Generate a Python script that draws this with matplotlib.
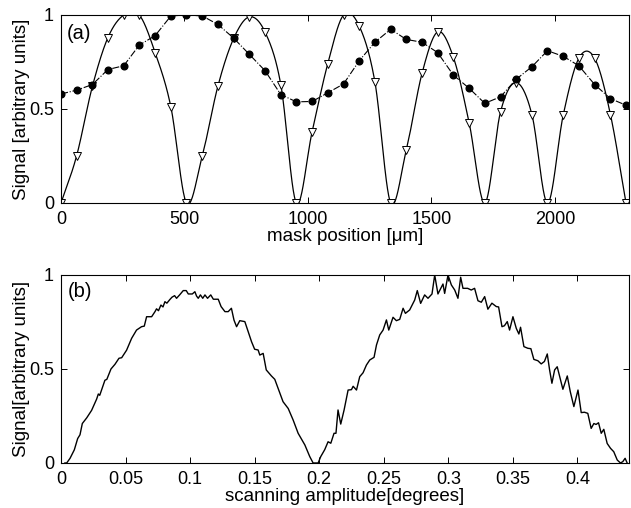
import matplotlib.pyplot as plt
import numpy as np

plt.rcParams['font.family'] = ['Liberation Sans', 'DejaVu Sans']
plt.rcParams['font.size'] = 13

# (a) mask position scan
mask_pos = [0, 63, 127, 190, 254, 317, 381, 445, 508, 572, 635, 699, 763, 826,
            890, 953, 1017, 1080, 1144, 1208, 1271, 1335, 1398, 1462, 1525, 1589,
            1653, 1716, 1780, 1843, 1907, 1970, 2034, 2097, 2161, 2225, 2288]
sig_tri = [0.0, 0.25, 0.62, 0.88, 1.0, 1.0, 0.80, 0.51, 0.0, 0.25, 0.62, 0.875,
           0.99, 0.91, 0.63, 0.0, 0.38, 0.74, 1.0, 0.94, 0.645, 0.0, 0.28, 0.69,
           0.91, 0.775, 0.425, 0.0, 0.486, 0.64, 0.47, 0.0, 0.47, 0.77, 0.77,
           0.47, 0.0]
sig_dot = [0.58, 0.60, 0.63, 0.71, 0.73, 0.84, 0.89, 0.995, 1.0, 0.995, 0.95,
           0.877, 0.79, 0.704, 0.577, 0.538, 0.54, 0.586, 0.633, 0.757, 0.855,
           0.924, 0.87, 0.855, 0.80, 0.68, 0.61, 0.53, 0.565, 0.658, 0.725, 0.81,
           0.78, 0.73, 0.63, 0.555, 0.52]

# (b) scanning amplitude
amp = [0.003, 0.0044, 0.007, 0.0103, 0.0129, 0.0147, 0.0165, 0.0199, 0.0237,
       0.0276, 0.0289, 0.0300, 0.034, 0.0355, 0.0387, 0.0418, 0.0449, 0.047,
       0.0508, 0.0547, 0.0585, 0.0624, 0.0645, 0.0663, 0.0702, 0.0728, 0.074,
       0.0755, 0.0774, 0.079, 0.0805, 0.082, 0.0844, 0.086, 0.088, 0.0895,
       0.092, 0.0947, 0.097, 0.0986, 0.1017, 0.1037, 0.105, 0.1063, 0.108,
       0.1098, 0.1115, 0.1135, 0.116, 0.118, 0.1218, 0.124, 0.127, 0.1295,
       0.132, 0.134, 0.136, 0.1385, 0.1424, 0.145, 0.1476, 0.150, 0.1527,
       0.154, 0.1566, 0.159, 0.163, 0.1656, 0.1682, 0.172, 0.176, 0.1798,
       0.1837, 0.1889, 0.1927, 0.1953, 0.1992, 0.2012, 0.2043, 0.2069, 0.209,
       0.2115, 0.213, 0.2146, 0.2167, 0.2193, 0.2224, 0.225, 0.2263, 0.2289,
       0.2314, 0.234, 0.2366, 0.2392, 0.2425, 0.2444, 0.2469, 0.2495, 0.2521,
       0.2539, 0.2572, 0.2598, 0.2624, 0.265, 0.2668, 0.2701, 0.274, 0.276,
       0.2786, 0.2817, 0.2843, 0.2874, 0.2895, 0.292, 0.2959, 0.2972, 0.2998,
       0.3024, 0.305, 0.3075, 0.3096, 0.3114, 0.315, 0.3178, 0.3204, 0.323,
       0.3256, 0.3282, 0.3307, 0.3338, 0.3372, 0.339, 0.3416, 0.3435, 0.3457,
       0.3475, 0.3501, 0.3527, 0.3547, 0.356, 0.3586, 0.3617, 0.364, 0.3663,
       0.3694, 0.372, 0.3745, 0.3767, 0.3785, 0.3803, 0.3824, 0.3844, 0.3888,
       0.3922, 0.3945, 0.3973, 0.4005, 0.403, 0.4055, 0.4081, 0.4107, 0.4128,
       0.4145, 0.4164, 0.4185, 0.4205, 0.4231, 0.4257, 0.4282, 0.4309, 0.4334,
       0.4352, 0.437, 0.4386]
sig_b = [0.0, 0.0, 0.025, 0.07, 0.13, 0.15, 0.21, 0.24, 0.28, 0.34, 0.367, 0.36,
         0.44, 0.445, 0.50, 0.525, 0.557, 0.56, 0.60, 0.663, 0.707, 0.725, 0.728,
         0.778, 0.778, 0.805, 0.82, 0.81, 0.84, 0.83, 0.858, 0.85, 0.87, 0.882,
         0.89, 0.876, 0.895, 0.917, 0.917, 0.899, 0.899, 0.911, 0.888, 0.876,
         0.894, 0.876, 0.894, 0.876, 0.894, 0.871, 0.871, 0.832, 0.805, 0.805,
         0.823, 0.76, 0.725, 0.757, 0.752, 0.698, 0.645, 0.605, 0.601, 0.574,
         0.583, 0.495, 0.463, 0.445, 0.397, 0.326, 0.29, 0.229, 0.158, 0.096,
         0.034, 0.0, 0.0, 0.034, 0.071, 0.113, 0.105, 0.158, 0.158, 0.282,
         0.207, 0.282, 0.388, 0.39, 0.408, 0.388, 0.459, 0.48, 0.521, 0.548,
         0.562, 0.628, 0.681, 0.707, 0.761, 0.707, 0.775, 0.757, 0.764, 0.823,
         0.796, 0.814, 0.867, 0.917, 0.849, 0.894, 0.876, 0.899, 1.0, 0.899,
         0.952, 0.902, 1.0, 0.947, 0.92, 0.876, 0.988, 0.929, 0.929, 0.92, 0.929,
         0.863, 0.855, 0.885, 0.818, 0.85, 0.832, 0.83, 0.725, 0.73, 0.752,
         0.707, 0.778, 0.716, 0.686, 0.722, 0.619, 0.61, 0.608, 0.551, 0.544,
         0.527, 0.54, 0.58, 0.495, 0.424, 0.495, 0.512, 0.392, 0.463, 0.38,
         0.30, 0.388, 0.268, 0.27, 0.264, 0.184, 0.21, 0.205, 0.214, 0.158,
         0.179, 0.104, 0.078, 0.06, 0.016, 0.0, 0.007, 0.025, 0.0]


def smooth(x, y, n=40):
    # Catmull-Rom style cubic through the marks, only for drawing the line
    x = np.asarray(x, float)
    y = np.asarray(y, float)
    m = np.gradient(y, x)
    xs, ys = [], []
    for i in range(len(x) - 1):
        h = x[i + 1] - x[i]
        t = np.linspace(0, 1, n, endpoint=False)
        h00 = 2 * t**3 - 3 * t**2 + 1
        h10 = t**3 - 2 * t**2 + t
        h01 = -2 * t**3 + 3 * t**2
        h11 = t**3 - t**2
        xs.append(x[i] + t * h)
        ys.append(h00 * y[i] + h10 * h * m[i] + h01 * y[i + 1] + h11 * h * m[i + 1])
    xs.append([x[-1]])
    ys.append([y[-1]])
    return np.concatenate(xs), np.concatenate(ys)


fig = plt.figure(figsize=(6.31, 5.08), dpi=100)
ax1 = fig.add_axes([0.0967, 0.6004, 0.9001, 0.3701])
ax2 = fig.add_axes([0.0967, 0.0886, 0.9001, 0.3701])

xs, ys = smooth(mask_pos, sig_tri)
ax1.plot(xs, ys, color='black', lw=0.9)
ax1.plot(mask_pos, sig_tri, ls='none', marker='v', ms=5.5, mfc='white',
         mec='black', mew=0.7)
ax1.plot(mask_pos, sig_dot, ls='-.', color='black', lw=0.8, marker='o',
         ms=4.8, mfc='black', mec='black')
ax1.set_xlim(0, 2300)
ax1.set_xticks([0, 500, 1000, 1500, 2000])
ax1.set_xlabel('mask position [μm]', fontsize=13.5, labelpad=0)
ax1.set_ylabel('Signal [arbitrary units]', fontsize=13.5, labelpad=-1)
ax1.text(25, 0.9, '(a)', fontsize=14.5, va='center', ha='left')

ax2.plot(amp, sig_b, color='black', lw=1.0)
ax2.set_xlim(0, 0.44)
ax2.set_xticks([0, 0.05, 0.1, 0.15, 0.2, 0.25, 0.3, 0.35, 0.4])
ax2.set_xticklabels(['0', '0.05', '0.1', '0.15', '0.2', '0.25', '0.3', '0.35', '0.4'])
ax2.set_xlabel('scanning amplitude[degrees]', fontsize=13.5, labelpad=0)
ax2.set_ylabel('Signal[arbitrary units]', fontsize=13.5, labelpad=-1)
ax2.text(0.005, 0.91, '(b)', fontsize=14.5, va='center', ha='left')

for ax in (ax1, ax2):
    ax.set_ylim(0, 1)
    ax.set_yticks([0, 0.5, 1])
    ax.set_yticklabels(['0', '0.5', '1'])
    ax.tick_params(direction='in', top=True, right=True, length=4, width=0.7,
                   labelsize=13)
    ax.tick_params(axis='x', pad=6)
    ax.tick_params(axis='y', pad=5)
    for s in ax.spines.values():
        s.set_linewidth(0.8)

plt.savefig('out.png', dpi=100)
